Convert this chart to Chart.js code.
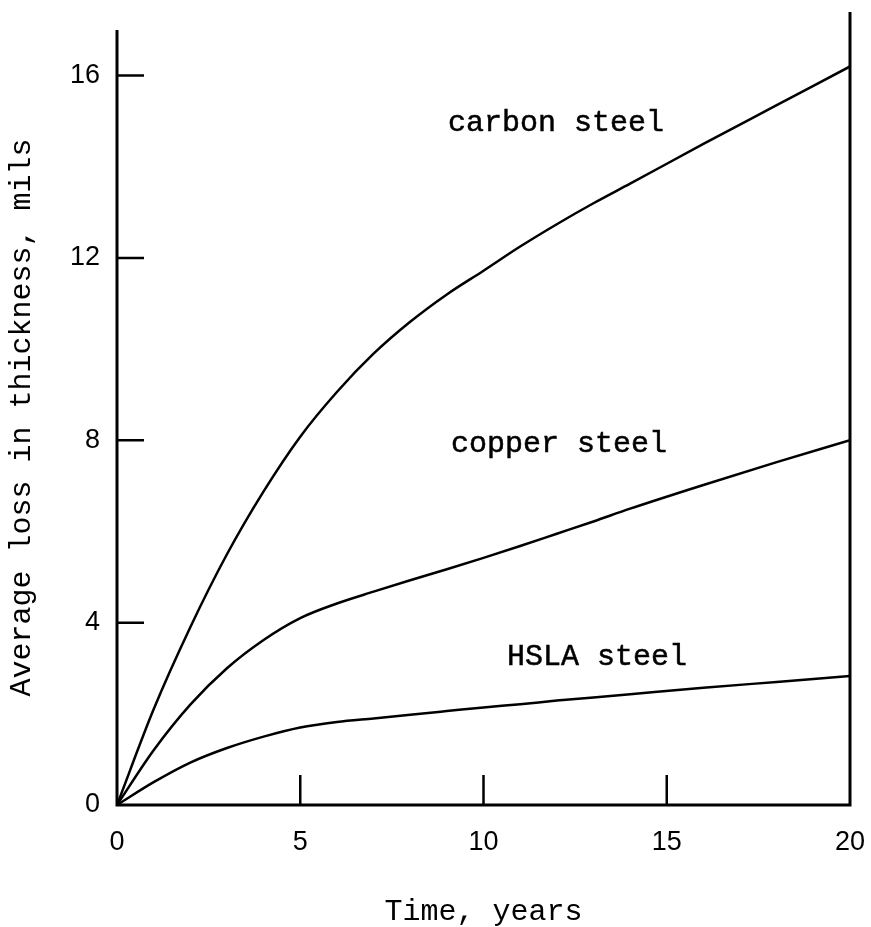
<!DOCTYPE html>
<html>
<head>
<meta charset="utf-8">
<script src="https://cdn.jsdelivr.net/npm/chart.js@4.4.0/dist/chart.umd.min.js"></script>
<style>
  html, body { margin: 0; padding: 0; background: #fff; }
  #wrap { width: 871px; height: 927px; }
</style>
</head>
<body>
<div id="wrap"><canvas id="loss-chart"></canvas></div>
<script>
// Values (years vs mils)
var years = [0, 1, 2, 3, 4, 5, 6, 7, 8, 9, 10, 11, 12, 13, 14, 16, 18, 20];
var carbonSteel = [0, 2.1, 3.9, 5.5, 6.88, 8.08, 9.06, 9.9, 10.6, 11.2, 11.72, 12.25, 12.74, 13.2, 13.63, 14.5, 15.35, 16.2];
var copperSteel = [0, 1.2, 2.2, 3.0, 3.62, 4.1, 4.42, 4.68, 4.93, 5.17, 5.42, 5.68, 5.95, 6.22, 6.5, 7.02, 7.52, 8.0];
var hslaSteel = [0, 0.5, 0.93, 1.25, 1.5, 1.7, 1.82, 1.9, 1.98, 2.06, 2.14, 2.21, 2.29, 2.36, 2.43, 2.57, 2.7, 2.83];
var seriesNames = ['carbon steel', 'copper steel', 'HSLA steel'];
var xTicks = [0, 5, 10, 15, 20];
var yTicks = [0, 4, 8, 12, 16];

// where the curve names sit (data units, left/baseline)
var nameSpots = [
  { x: 9.03, y: 14.78 },
  { x: 9.11, y: 7.74 },
  { x: 10.64, y: 3.07 }
];

var monoFont = '"Liberation Mono", "Courier New", monospace';
var sansFont = '"Liberation Sans", Arial, sans-serif';

function toPoints(values) {
  return years.map(function (x, i) { return { x: x, y: values[i] }; });
}

function lineSet(name, values) {
  return {
    label: name,
    data: toPoints(values),
    borderColor: '#000',
    backgroundColor: '#000',
    borderWidth: 2.5,
    pointRadius: 0,
    fill: false,
    cubicInterpolationMode: 'monotone'
  };
}

// axis frame + inside tick marks
var framePlugin = {
  id: 'frameLines',
  afterDatasetsDraw: function (chart) {
    var c = chart.ctx;
    var xs = chart.scales.x;
    var ys = chart.scales.y;
    var x0 = xs.getPixelForValue(0);
    var x1 = xs.getPixelForValue(20);
    var y0 = ys.getPixelForValue(0);
    c.save();
    c.strokeStyle = '#000';
    c.lineWidth = 3;
    c.beginPath();
    c.moveTo(x0, chart.chartArea.top);
    c.lineTo(x0, y0);
    c.lineTo(x1, y0);
    c.lineTo(x1, chart.chartArea.top - 18);
    c.stroke();

    c.lineWidth = 2.5;
    c.beginPath();
    yTicks.forEach(function (v) {
      if (v === 0) return;
      var yp = ys.getPixelForValue(v);
      c.moveTo(x0, yp);
      c.lineTo(x0 + 27, yp);
    });
    xTicks.forEach(function (v) {
      if (v === 0 || v === 20) return;
      var xp = xs.getPixelForValue(v);
      c.moveTo(xp, y0);
      c.lineTo(xp, y0 - 30);
    });
    c.stroke();
    c.restore();
  }
};

// curve names written next to the lines
var namePlugin = {
  id: 'curveNames',
  afterDraw: function (chart) {
    var c = chart.ctx;
    var xs = chart.scales.x;
    var ys = chart.scales.y;
    c.save();
    c.fillStyle = '#000';
    c.strokeStyle = '#000';
    c.lineWidth = 0.5;
    c.font = '30px ' + monoFont;
    c.textAlign = 'left';
    c.textBaseline = 'alphabetic';
    seriesNames.forEach(function (name, i) {
      var px = xs.getPixelForValue(nameSpots[i].x);
      var py = ys.getPixelForValue(nameSpots[i].y);
      c.fillText(name, px, py);
      c.strokeText(name, px, py);
    });
    c.restore();
  }
};

function noEdgePadding(scale) {
  scale.paddingTop = 0;
  scale.paddingBottom = 0;
  scale.paddingLeft = 0;
  scale.paddingRight = 0;
}

var ctx = document.getElementById('loss-chart').getContext('2d');
var lossChart = new Chart(ctx, {
  type: 'line',
  data: {
    datasets: [
      lineSet(seriesNames[0], carbonSteel),
      lineSet(seriesNames[1], copperSteel),
      lineSet(seriesNames[2], hslaSteel)
    ]
  },
  options: {
    responsive: true,
    maintainAspectRatio: false,
    animation: false,
    layout: { padding: { top: 30, right: 21, left: 0, bottom: 0 } },
    plugins: {
      legend: { display: false },
      tooltip: { enabled: false }
    },
    scales: {
      x: {
        type: 'linear',
        min: 0,
        max: 20,
        afterBuildTicks: function (scale) {
          scale.ticks = xTicks.map(function (v) { return { value: v }; });
        },
        afterFit: function (scale) { scale.height = 122; noEdgePadding(scale); },
        grid: { display: false, drawTicks: false },
        border: { display: false },
        ticks: {
          padding: 21,
          maxRotation: 0,
          color: '#000',
          font: { family: sansFont, size: 27 }
        },
        title: {
          display: true,
          text: 'Time, years',
          color: '#000',
          font: { family: monoFont, size: 30, lineHeight: 1 },
          padding: 0
        }
      },
      y: {
        type: 'linear',
        min: 0,
        max: 17,
        afterBuildTicks: function (scale) {
          scale.ticks = yTicks.map(function (v) { return { value: v }; });
        },
        afterFit: function (scale) { scale.width = 117; noEdgePadding(scale); },
        grid: { display: false, drawTicks: false },
        border: { display: false },
        ticks: {
          padding: 17,
          color: '#000',
          font: { family: sansFont, size: 27 }
        },
        title: {
          display: true,
          text: 'Average loss in thickness, mils',
          color: '#000',
          font: { family: monoFont, size: 30, lineHeight: 1 },
          padding: { top: 7, bottom: 0 }
        }
      }
    }
  },
  plugins: [framePlugin, namePlugin]
});
</script>
</body>
</html>
